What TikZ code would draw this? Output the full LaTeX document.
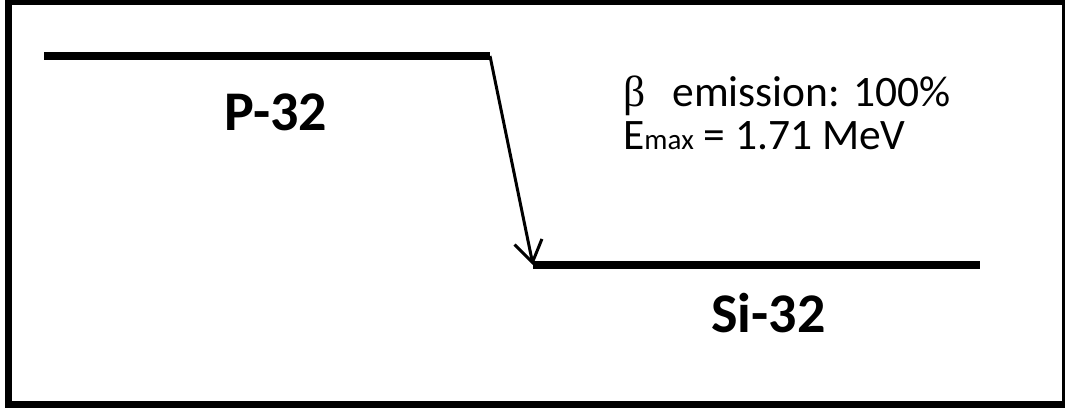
\documentclass[tikz,border=0pt]{standalone}
\usepackage{fontspec}
\setmainfont{Carlito}
\newfontfamily\greekfont{Liberation Serif}
\usetikzlibrary{arrows.meta}
\begin{document}
\begin{tikzpicture}[x=1pt,y=-1pt,
  level/.style={line width=8pt},
  trans/.style={line width=3pt,-{Straight Barb[length=21pt,width=28pt]}},
  nuc/.style={anchor=base,inner sep=0pt,font=\fontsize{56}{60}\selectfont\bfseries},
  info/.style={anchor=base west,inner sep=0pt,font=\fontsize{43.5}{48}\selectfont}]
\useasboundingbox (0,0) rectangle (1065,412);
\begin{scope}
\clip (0,0) rectangle (1065,412);
\draw[line width=7pt] (8.5,1.5) rectangle (1065.5,404.5);
\end{scope}
\coordinate (pl) at (44,56);
\coordinate (pr) at (490,56);
\coordinate (sl) at (533,265);
\coordinate (sr) at (980,265);
\draw[level] (pl) -- (pr);
\draw[level] (sl) -- (sr);
\draw[trans] (pr) -- (sl);
\node[nuc] (p32) at (276,130) {P-32};
\node[nuc] (si32) at (768.5,332) {Si-32};
\node[info] (beta) at (623,106) {{\greekfont β}\hspace{27pt}emission: 100\%};
\node[info] (emax) at (623,149) {E{\fontsize{29}{30}\selectfont max} = 1.71 MeV};
\end{tikzpicture}
\end{document}
